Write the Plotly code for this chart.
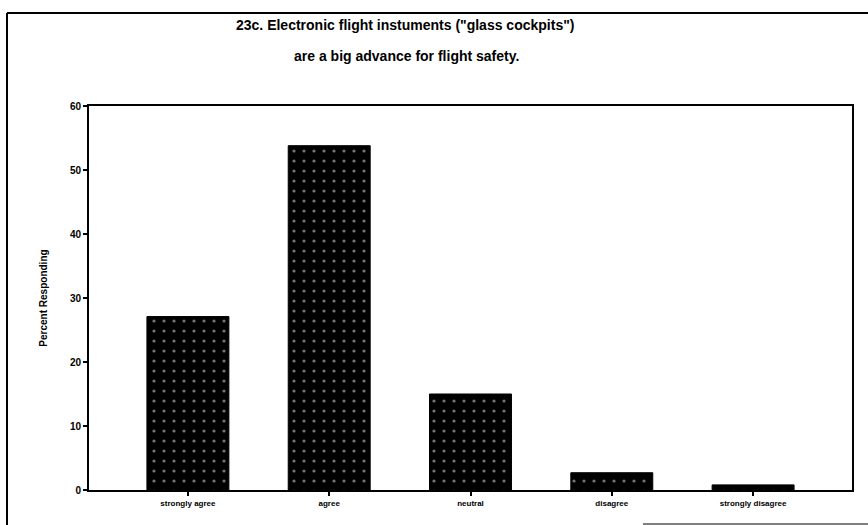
import plotly.graph_objects as go

# Survey responses, item 23c
categories = ["strongly agree", "agree", "neutral", "disagree", "strongly disagree"]
percent = [27.1, 53.8, 15.0, 2.7, 0.8]
y_ticks = [0, 10, 20, 30, 40, 50, 60]

W, H = 868, 525
L, R, T, B = 89, 16, 106, 35
PW, PH = W - L - R, H - T - B


def px_x(x):
    return (x - L) / PW


def px_y(y):
    return (H - B - y) / PH


FONT = "Liberation Sans, Arial, sans-serif"

fig = go.Figure(
    go.Bar(
        x=categories,
        y=percent,
        width=0.58,
        marker=dict(
            color="black",
            line=dict(color="black", width=1),
            pattern=dict(shape=".", fgcolor="#e8e8e8", bgcolor="black", size=10, solidity=0.08),
        ),
        hoverinfo="skip",
    )
)

fig.update_layout(
    width=W,
    height=H,
    margin=dict(l=L, r=R, t=T, b=B, autoexpand=False),
    paper_bgcolor="white",
    plot_bgcolor="white",
    showlegend=False,
    font=dict(family=FONT, color="black"),
)

fig.update_xaxes(
    range=[-0.7, 4.7],
    showline=True,
    linecolor="black",
    linewidth=2,
    mirror=True,
    ticks="outside",
    ticklen=4,
    tickwidth=2,
    tickcolor="black",
    tickfont=dict(family=FONT, size=8, weight="bold"),
    showgrid=False,
    zeroline=False,
)

fig.update_yaxes(
    range=[0, 60],
    tickvals=y_ticks,
    showline=True,
    linecolor="black",
    linewidth=2,
    mirror=True,
    ticks="outside",
    ticklen=4,
    tickwidth=2,
    tickcolor="black",
    tickfont=dict(family=FONT, size=10, weight="bold"),
    showgrid=False,
    zeroline=False,
    title=dict(text="Percent Responding", font=dict(family=FONT, size=10, weight="bold"), standoff=20),
)

# Two-line heading
fig.add_annotation(
    text="23c. Electronic flight instuments (\"glass cockpits\")",
    xref="paper", yref="paper", x=px_x(405), y=px_y(25),
    showarrow=False, xanchor="center", yanchor="middle",
    font=dict(family=FONT, size=14, weight="bold"),
)
fig.add_annotation(
    text="are a big advance for flight safety.",
    xref="paper", yref="paper", x=px_x(406), y=px_y(56),
    showarrow=False, xanchor="center", yanchor="middle",
    font=dict(family=FONT, size=14, weight="bold"),
)

# Outer frame (top and left edges) and bottom rule
fig.add_shape(type="line", xref="paper", yref="paper",
              x0=px_x(7), x1=px_x(868), y0=px_y(13), y1=px_y(13),
              line=dict(color="black", width=2))
fig.add_shape(type="line", xref="paper", yref="paper",
              x0=px_x(7), x1=px_x(7), y0=px_y(13), y1=px_y(525),
              line=dict(color="black", width=2))
fig.add_shape(type="line", xref="paper", yref="paper",
              x0=px_x(643), x1=px_x(868), y0=px_y(524), y1=px_y(524),
              line=dict(color="#555555", width=1.5))

fig.write_html("out.html")
